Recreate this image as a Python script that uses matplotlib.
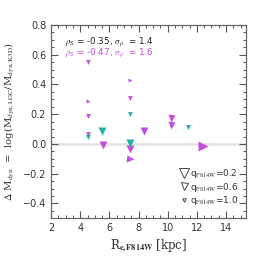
import matplotlib
matplotlib.use("Agg")
import matplotlib.pyplot as plt
from matplotlib.lines import Line2D
from matplotlib.ticker import MultipleLocator

# ---- data ----
mag_down_x = [4.55, 4.55, 4.55, 5.55, 7.40, 7.40, 8.35, 10.25, 10.25]
mag_down_y = [0.55, 0.19, 0.07, -0.01, 0.31, -0.037, 0.087, 0.177, 0.125]
mag_down_q = [0.85, 0.85, 0.85, 0.55, 0.85, 0.55, 0.40, 0.60, 0.60]

mag_right_x = [4.55, 7.40, 7.45, 12.40]
mag_right_y = [0.29, 0.43, -0.10, -0.015]
mag_right_q = [0.95, 0.95, 0.60, 0.30]

teal_down_x = [4.55, 5.50, 7.40, 7.40, 11.40]
teal_down_y = [0.046, 0.09, 0.20, 0.008, 0.116]
teal_down_q = [0.85, 0.50, 0.85, 0.55, 0.85]

legend_q = [0.2, 0.6, 1.0]
stat_black = "$\\rho_{\\rm S}$ = -0.35, $\\sigma_{\\rho}$  = 1.4"
stat_mag = "$\\rho_{\\rm S}$ = -0.47, $\\sigma_{\\rho}$  = 1.6"

MAG = "#c24fe0"
TEAL = "#1fb0a2"

def msize(q):
    # marker size (points) as function of axis ratio q
    w_px = 12.25 - 8.75 * q
    return w_px * 0.72

plt.rcParams['mathtext.fontset'] = 'stix'

fig = plt.figure(figsize=(2.58, 2.58), dpi=100)
ax = fig.add_axes([0.198, 0.154, 0.754, 0.749])

ax.axhline(0.0, color="#e4e4e4", lw=1.8, zorder=0)

for x, y, q in zip(mag_down_x, mag_down_y, mag_down_q):
    ax.plot(x, y, marker='v', ms=msize(q), color=MAG, mec='none', ls='none')
for x, y, q in zip(mag_right_x, mag_right_y, mag_right_q):
    ax.plot(x, y, marker='>', ms=msize(q), color=MAG, mec='none', ls='none')
for x, y, q in zip(teal_down_x, teal_down_y, teal_down_q):
    ax.plot(x, y, marker='v', ms=msize(q), color=TEAL, mec='none', ls='none')

ax.set_xlim(2, 15.35)
ax.set_ylim(-0.5, 0.8)
ax.xaxis.set_major_locator(MultipleLocator(2))
ax.xaxis.set_minor_locator(MultipleLocator(0.5))
ax.yaxis.set_major_locator(MultipleLocator(0.2))
ax.yaxis.set_minor_locator(MultipleLocator(0.05))
ax.tick_params(which='both', direction='in', top=True, right=True,
               colors='#555555', labelcolor='#333333', labelsize=7)
ax.tick_params(which='major', length=5, width=0.8)
ax.tick_params(which='minor', length=2.5, width=0.7)
for s in ax.spines.values():
    s.set_color('#666666')
    s.set_linewidth(0.9)

ax.set_xlabel("R$_{\\mathbf{e,F814W}}$ [kpc]", fontsize=8.5, family='serif', color='#333333')
ax.set_ylabel("$\\Delta$ M$_{\\rm dyn}$  =  log(M$_{\\rm dyn,LGC}$/M$_{\\rm dyn,K3D}$)",
              fontsize=7.3, family='serif', color='#333333')
ax.xaxis.set_label_coords(0.5, -0.10)
ax.yaxis.set_label_coords(-0.175, 0.5)

ax.text(0.07, 0.915, stat_black, transform=ax.transAxes, fontsize=6.3, color='#222222', va='center')
ax.text(0.07, 0.855, stat_mag, transform=ax.transAxes, fontsize=6.3, color=MAG, va='center')

handles = [Line2D([], [], marker='v', ls='none', ms=msize(q), mfc='none', mec='#444444', mew=0.7)
           for q in legend_q]
labels = ["q$_{\\rm F814W}$=%.1f" % q for q in legend_q]
leg = ax.legend(handles, labels, loc='lower right', bbox_to_anchor=(0.99, 0.03), frameon=False,
                fontsize=6.5, handlelength=0.8, handletextpad=0.3, labelspacing=0.05,
                borderaxespad=0.2)
for t in leg.get_texts():
    t.set_color('#333333')

fig.savefig("out.png", dpi=100)
